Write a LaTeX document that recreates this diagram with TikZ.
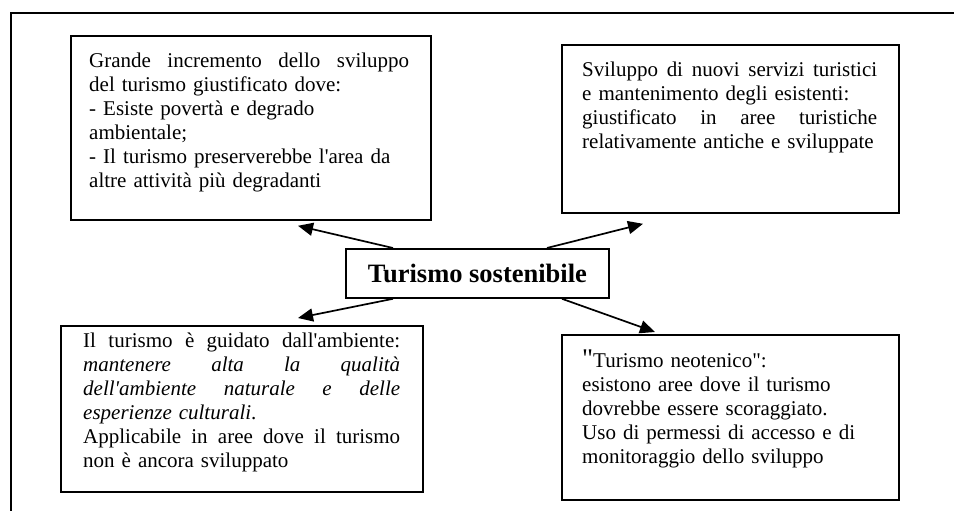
\documentclass[tikz,border=0pt]{standalone}
\usepackage{fontspec}
\setmainfont{Liberation Serif}[Ligatures=TeXOff]
\usetikzlibrary{arrows.meta,calc}
\newcommand\Jline[2]{\leavevmode\hbox to #1{#2}}
\begin{document}
\begin{tikzpicture}[x=1pt,y=-1pt,
  boxst/.style={draw=black, line width=1.8pt, inner sep=0pt, anchor=north west},
  txt/.style={inner sep=0pt, anchor=base west, align=left, font=\fontsize{21}{24}\selectfont},
  arr/.style={line width=1.7pt, -{Triangle[length=15pt,width=13pt]}},
  frame/.style={line width=1.8pt}]
\useasboundingbox (0,0) rectangle (954,511);
% outer frame (cut off at right and bottom)
\draw[frame] (11,513) -- (11,13) -- (956,13);
% boxes
\node[boxst, minimum width=360pt, minimum height=184pt] (A) at (70,35) {};
\node[boxst, minimum width=337pt, minimum height=168pt] (B) at (561,44) {};
\node[boxst, minimum width=362pt, minimum height=166pt] (C) at (60,325) {};
\node[boxst, minimum width=337pt, minimum height=165pt] (D) at (561,334) {};
\node[boxst, minimum width=263pt, minimum height=49pt,
      font=\bfseries\fontsize{26.5}{30}\selectfont] (ctr) at (345,248) {Turismo sostenibile};
% texts
\node[txt, text width=322pt] (tA) at (89,68) {\Jline{320pt}{Grande\hfill incremento\hfill dello\hfill sviluppo}\\
del turismo giustificato dove:\\
- Esiste povertà e degrado\\
ambientale;\\
- Il turismo preserverebbe l'area da\\
altre attività più degradanti};
\node[txt, text width=297pt] (tB) at (582,77) {\Jline{295pt}{Sviluppo\hfill di\hfill nuovi\hfill servizi\hfill turistici}\\
e mantenimento degli esistenti:\\
\Jline{295pt}{giustificato\hfill in\hfill aree\hfill turistiche}\\
relativamente antiche e sviluppate};
\node[txt, text width=319pt] (tC) at (83,347) {\Jline{317pt}{Il\hfill turismo\hfill è\hfill guidato\hfill dall'ambiente:}\\
\Jline{317pt}{\itshape mantenere\hfill alta\hfill la\hfill qualità}\\
\Jline{317pt}{\itshape dell'ambiente\hfill naturale\hfill e\hfill delle}\\
\textit{esperienze culturali}.\\
\Jline{317pt}{Applicabile\hfill in\hfill aree\hfill dove\hfill il\hfill turismo}\\
non è ancora sviluppato};
\node[txt, text width=297pt] (tD) at (582,367) {{\fontsize{27}{24}\selectfont "}Turismo neotenico":\\
esistono aree dove il turismo\\
dovrebbe essere scoraggiato.\\
Uso di permessi di accesso e di\\
monitoraggio dello sviluppo};
% arrow tips
\coordinate (pA) at ($(A.south west)+(228,5)$);
\coordinate (pB) at ($(B.south west)+(82,10)$);
\coordinate (pC) at ($(C.north west)+(238,-7)$);
\coordinate (pD) at ($(D.north west)+(94,-2)$);
\draw[arr] ($(ctr.north west)+(48,0)$) -- (pA);
\draw[arr] ($(ctr.north west)+(202,0)$) -- (pB);
\draw[arr] ($(ctr.south west)+(48,0)$) -- (pC);
\draw[arr] ($(ctr.south west)+(217,0)$) -- (pD);
\end{tikzpicture}
\end{document}
